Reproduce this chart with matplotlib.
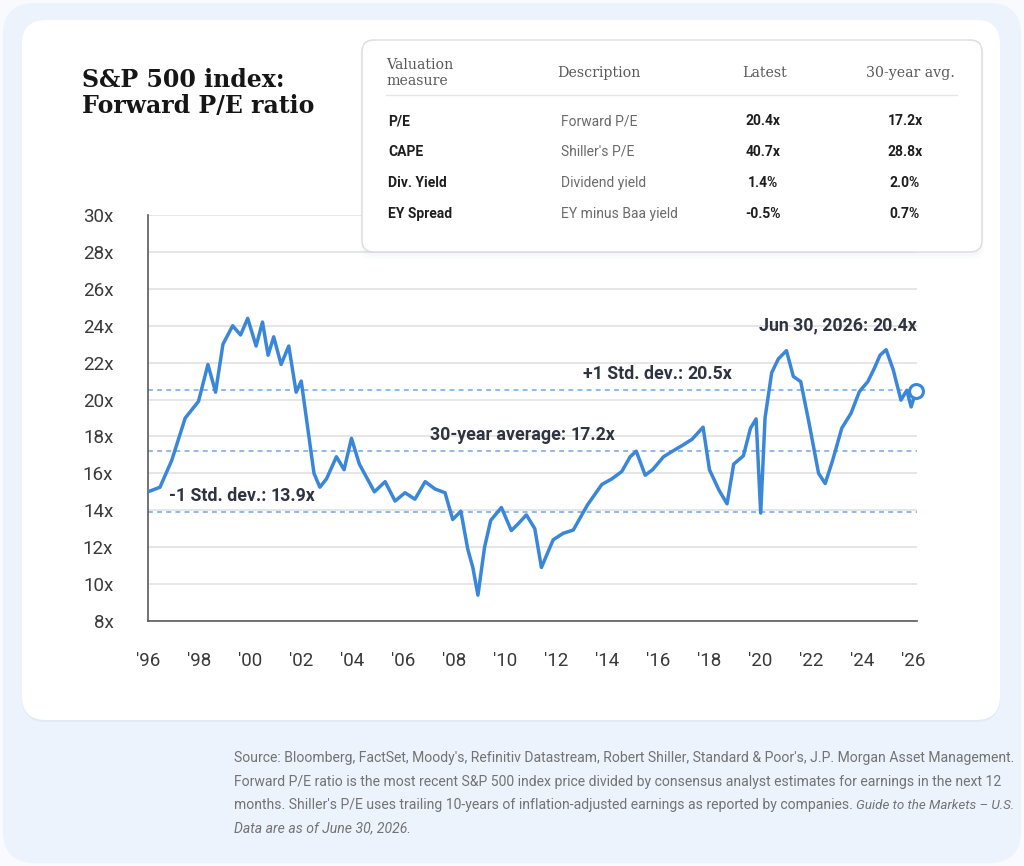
import matplotlib.pyplot as plt
from matplotlib.patches import FancyBboxPatch

# forward P/E (decimal year, multiple)
years = [1996.0, 1996.47, 1996.93, 1997.46, 1997.98, 1998.35, 1998.65, 1998.94, 1999.32, 1999.63,
         1999.91, 2000.24, 2000.49, 2000.71, 2000.93, 2001.22, 2001.52, 2001.81, 2002.01, 2002.51,
         2002.74, 2003.0, 2003.39, 2003.69, 2003.98, 2004.29, 2004.88, 2005.30, 2005.69, 2006.08,
         2006.47, 2006.87, 2007.26, 2007.65, 2007.95, 2008.27, 2008.54, 2008.74, 2008.94, 2009.2,
         2009.44, 2009.86, 2010.25, 2010.54, 2010.84, 2011.17, 2011.43, 2011.89, 2012.28, 2012.68,
         2013.24, 2013.80, 2014.19, 2014.58, 2014.91, 2015.15, 2015.5, 2015.79, 2016.22, 2016.57,
         2016.94, 2017.34, 2017.77, 2018.02, 2018.39, 2018.71, 2018.97, 2019.35, 2019.63, 2019.85,
         2020.03, 2020.2, 2020.46, 2020.72, 2021.04, 2021.31, 2021.6, 2021.93, 2022.3, 2022.56,
         2022.85, 2023.21, 2023.57, 2023.9, 2024.23, 2024.49, 2024.71, 2024.95, 2025.23, 2025.53,
         2025.76, 2025.93, 2026.12]
pe = [15.0, 15.25, 16.7, 19.0, 19.9, 21.9, 20.4, 23.0, 24.0, 23.5,
      24.4, 22.9, 24.2, 22.4, 23.4, 21.9, 22.9, 20.4, 21.0, 16.0,
      15.25, 15.7, 16.9, 16.2, 17.9, 16.5, 15.0, 15.55, 14.5, 14.95,
      14.6, 15.55, 15.15, 14.95, 13.5, 13.95, 11.9, 10.9, 9.4, 12.0,
      13.45, 14.15, 12.9, 13.3, 13.75, 13.0, 10.9, 12.4, 12.75, 12.93,
      14.3, 15.4, 15.7, 16.1, 16.9, 17.2, 15.9, 16.2, 16.9, 17.2,
      17.5, 17.85, 18.5, 16.2, 15.1, 14.35, 16.5, 16.95, 18.45, 18.95,
      13.85, 19.0, 21.45, 22.2, 22.65, 21.25, 20.97, 18.7, 16.0, 15.45,
      16.7, 18.45, 19.25, 20.43, 20.97, 21.7, 22.4, 22.7, 21.6, 19.97,
      20.5, 19.6, 20.45]

avg = 17.2
plus_sd = 20.5
minus_sd = 13.9

xticks = list(range(1996, 2027, 2))
xlabels = ["'%02d" % (y % 100) for y in xticks]
yticks = list(range(8, 31, 2))

tbl_header = ["Valuation\nmeasure", "Description", "Latest", "30-year avg."]
tbl_measure = ["P/E", "CAPE", "Div. Yield", "EY Spread"]
tbl_desc = ["Forward P/E", "Shiller's P/E", "Dividend yield", "EY minus Baa yield"]
tbl_latest = ["20.4x", "40.7x", "1.4%", "-0.5%"]
tbl_avg = ["17.2x", "28.8x", "2.0%", "0.7%"]

blue = "#3a87da"
dash_blue = "#8fb8ec"
dark = "#2e3440"
sans = ["Roboto", "DejaVu Sans"]

plt.rcParams["font.family"] = sans

fig = plt.figure(figsize=(10.24, 8.66), dpi=100, facecolor="#f8fafd")

# background panels, in pixel units
bg = fig.add_axes([0, 0, 1, 1], zorder=0)
bg.set_xlim(0, 1024)
bg.set_ylim(866, 0)
bg.axis("off")
bg.add_patch(FancyBboxPatch((3, 3), 1018, 860, boxstyle="round,pad=0,rounding_size=32",
                            fc="#ecf3fd", ec="none"))
bg.add_patch(FancyBboxPatch((22, 22), 978, 700, boxstyle="round,pad=0,rounding_size=24",
                            fc="#e2eaf5", ec="none"))
bg.add_patch(FancyBboxPatch((22, 20), 978, 700, boxstyle="round,pad=0,rounding_size=24",
                            fc="white", ec="none"))

# main chart
ax = fig.add_axes([148 / 1024, 1 - 621 / 866, 769 / 1024, 406 / 866], zorder=1)
ax.set_facecolor("none")
ax.set_xlim(1996, 2026.16)
ax.set_ylim(8, 30)
ax.set_yticks(yticks)
ax.set_yticklabels(["%dx" % v for v in yticks])
ax.set_xticks(xticks)
ax.set_xticklabels(xlabels)
ax.tick_params(length=0, labelsize=13.5, colors="#3a3a3a")
ax.tick_params(axis="y", pad=25)
ax.tick_params(axis="x", pad=22)
ax.yaxis.grid(True, color="#e2e2e2", lw=1.2)
ax.set_axisbelow(True)
for s in ["top", "right"]:
    ax.spines[s].set_visible(False)
for s in ["left", "bottom"]:
    ax.spines[s].set_color("#5a5a5a")
    ax.spines[s].set_linewidth(1.2)

for v in [plus_sd, avg, minus_sd]:
    ax.axhline(v, color=dash_blue, lw=1.4, ls=(0, (2.5, 2.2)), zorder=2)

ax.plot(years, pe, color=blue, lw=2.5, zorder=3)
ax.plot(years[-1], pe[-1], "o", ms=10, mfc="white", mec=blue, mew=2.2, zorder=4, clip_on=False)

lab_size = 12.8


def two_part(label, value, x, y, right=False):
    if right:
        t = ax.text(x, y, value, ha="right", va="center", fontsize=lab_size, fontweight="bold", color=dark)
        ax.annotate(label, xy=(0, 0), xycoords=t, ha="right", va="bottom", fontsize=lab_size,
                    fontweight="semibold", color=dark)
    else:
        t = ax.text(x, y, label, ha="left", va="center", fontsize=lab_size, fontweight="semibold", color=dark)
        ax.annotate(value, xy=(1, 0), xycoords=t, ha="left", va="bottom", fontsize=lab_size,
                    fontweight="bold", color=dark)


two_part("Jun 30, 2026: ", "20.4x", 2026.16, 24.0, right=True)
two_part("+1 Std. dev.: ", "20.5x", 2018.9, 21.4, right=True)
two_part("30-year average: ", "17.2x", 2007.05, 18.08)
two_part("-1 Std. dev.: ", "13.9x", 1996.82, 14.78)

# overlay: title, table box, footnote (pixel units)
ov = fig.add_axes([0, 0, 1, 1], zorder=5)
ov.set_facecolor("none")
ov.set_xlim(0, 1024)
ov.set_ylim(866, 0)
ov.axis("off")

ov.text(82, 93, "S&P 500 index:\nForward P/E ratio", fontsize=17, fontweight="bold",
        family=["DejaVu Serif"], color="#161616", va="center", ha="left", linespacing=1.15)

for i, a in enumerate([0.05, 0.04, 0.03]):
    ov.add_patch(FancyBboxPatch((362 - i, 40 + 1 + i), 620 + 2 * i, 212 + 2 * i,
                                boxstyle="round,pad=0,rounding_size=12", fc="#9aa6b8",
                                ec="none", alpha=a))
ov.add_patch(FancyBboxPatch((362, 40), 620, 212, boxstyle="round,pad=0,rounding_size=12",
                            fc="white", ec="#dcdcdc", lw=1))

hx = [386, 557, 765, 910]
hal = ["left", "left", "center", "center"]
for txt, x, a in zip(tbl_header, hx, hal):
    ov.text(x, 73, txt, ha=a, va="center", fontsize=10.2, family=["DejaVu Serif"],
            color="#5a5a5a", linespacing=1.2)
ov.plot([386, 957], [95, 95], color="#e6e6e6", lw=1)

row_y = [121, 152, 183, 214]
for i, y in enumerate(row_y):
    ov.text(388, y, tbl_measure[i], ha="left", va="center", fontsize=10, fontweight="bold", color="#1e1e1e")
    ov.text(561, y, tbl_desc[i], ha="left", va="center", fontsize=10, color="#6a6a6a")
    ov.text(763, y, tbl_latest[i], ha="center", va="center", fontsize=10, fontweight="bold", color="#1e1e1e")
    ov.text(905, y, tbl_avg[i], ha="center", va="center", fontsize=10, fontweight="bold", color="#1e1e1e")

fs = 10.05
fn = dict(fontsize=fs, color="#737373", va="center", ha="left")
ov.text(234, 758, "Source: Bloomberg, FactSet, Moody's, Refinitiv Datastream, Robert Shiller, "
        "Standard & Poor's, J.P. Morgan Asset Management.", **fn)
ov.text(234, 782, "Forward P/E ratio is the most recent S&P 500 index price divided by consensus "
        "analyst estimates for earnings in the next 12", **fn)
t3 = ov.text(234, 805, "months. Shiller's P/E uses trailing 10-years of inflation-adjusted earnings "
             "as reported by companies. ", **fn)
ov.annotate("Guide to the Markets \u2013 U.S.", xy=(1, 0), xycoords=t3, ha="left", va="bottom",
            fontsize=9.6, color="#737373", style="italic")
ov.text(234, 828, "Data are as of June 30, 2026.", style="italic", **fn)

fig.savefig("out.png", dpi=100, facecolor=fig.get_facecolor())
